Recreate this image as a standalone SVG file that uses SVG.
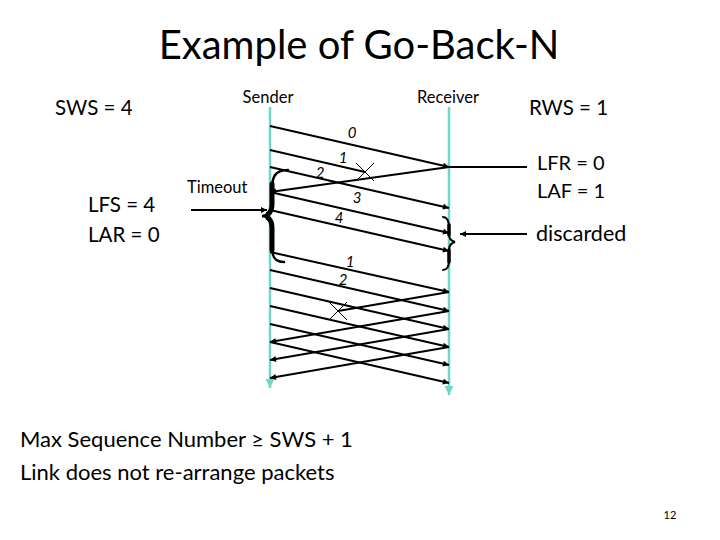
<svg xmlns="http://www.w3.org/2000/svg" width="720" height="540" viewBox="0 0 720 540">
<defs>
<style>
.t{font-family:Lato,"Open Sans","Liberation Sans",sans-serif;fill:#000}
.big{font-size:20.5px}
.sm{font-size:16.5px}
.note{font-size:22px}
.lab{font-family:Lato,"Open Sans","Liberation Sans",sans-serif;font-size:15px;font-style:italic;text-anchor:middle}
.life{stroke:#6ED6CB;stroke-width:2.5;fill:none}
.msg{stroke:#000;stroke-width:2;fill:none}
.msga{stroke:#000;stroke-width:2;fill:none;marker-end:url(#ah)}
.x{stroke:#000;stroke-width:1;fill:none}
.brace{stroke:#000;fill:none;stroke-linecap:round}
</style>
<marker id="ah" viewBox="0 0 10 10" refX="10" refY="5" markerWidth="7" markerHeight="6" markerUnits="userSpaceOnUse" orient="auto"><path d="M0,0 L10,5 L0,10 z" fill="#000"/></marker>
<marker id="th" viewBox="0 0 10 10" refX="10" refY="5" markerWidth="9" markerHeight="9" markerUnits="userSpaceOnUse" orient="auto"><path d="M0,0 L10,5 L0,10 z" fill="#6ED6CB"/></marker>
</defs>
<rect width="720" height="540" fill="#fff"/>

<text class="t" x="359" y="59" font-size="40" text-anchor="middle">Example of Go-Back-N</text>

<g id="sender">
<text class="t sm" x="268" y="103" text-anchor="middle">Sender</text>
<line class="life" x1="270" y1="107" x2="270" y2="388" marker-end="url(#th)"/>
</g>
<g id="receiver">
<text class="t sm" x="448" y="103" text-anchor="middle">Receiver</text>
<line class="life" x1="449" y1="107" x2="449" y2="395" marker-end="url(#th)"/>
</g>

<g id="sender-vars">
<text class="t big" x="55" y="115">SWS = 4</text>
<text class="t big" x="88" y="212">LFS = 4</text>
<text class="t big" x="88" y="242">LAR = 0</text>
</g>
<g id="receiver-vars">
<text class="t big" x="529" y="115">RWS = 1</text>
<text class="t" font-size="20" x="537" y="170">LFR = 0</text>
<text class="t" font-size="20" x="537" y="198">LAF = 1</text>
<text class="t" font-size="21.5" x="536" y="241">discarded</text>
</g>
<g id="timeout">
<text class="t sm" x="187" y="193">Timeout</text>
</g>

<g id="connectors">
<!-- first window -->
<line class="msga" x1="270" y1="126" x2="449" y2="167"/>
<line class="msg" x1="270" y1="150" x2="365" y2="172"/>
<line class="msga" x1="270" y1="167" x2="449" y2="208"/>
<line class="msga" x1="449" y1="167" x2="270" y2="192"/>
<line class="msga" x1="270" y1="192" x2="449" y2="233"/>
<line class="msga" x1="270" y1="210" x2="449" y2="251"/>
<!-- retransmission -->
<line class="msga" x1="270" y1="252" x2="449" y2="292"/>
<line class="msga" x1="270" y1="270" x2="449" y2="311"/>
<line class="msga" x1="270" y1="288" x2="449" y2="329"/>
<line class="msga" x1="270" y1="306" x2="449" y2="347"/>
<line class="msga" x1="270" y1="324" x2="449" y2="365"/>
<line class="msga" x1="270" y1="342" x2="449" y2="383"/>
<!-- acks -->
<line class="msg" x1="449" y1="292" x2="338" y2="311"/>
<line class="msga" x1="449" y1="311" x2="270" y2="342"/>
<line class="msga" x1="449" y1="329" x2="270" y2="360"/>
<line class="msga" x1="449" y1="347" x2="270" y2="378"/>
<!-- losses -->
<path class="x" d="M356,163 L374,181 M356,181 L374,163"/>
<path class="x" d="M329,302 L347,320 M329,320 L347,302"/>
<!-- annotation arrows -->
<line class="msga" x1="191" y1="210" x2="267" y2="210"/>
<line class="msg" x1="527" y1="167" x2="449" y2="167"/>
<line class="msga" x1="527" y1="234" x2="460" y2="234"/>
<!-- braces -->
<path class="brace" stroke-width="2.5" d="M288,170 C274,170 272,178 272,190 L272,204 C272,212 268,216 262,216 C268,216 272,220 272,228 L272,248 C272,257 275,262 284,262"/>
<path class="brace" stroke-width="5" d="M272,184 L272,204 C272,209 271,212 268,214 M268,218 C271,220 272,223 272,228 L272,250"/>
<path class="brace" stroke-width="2" d="M443,217 C448,217 449,222 449,228 L449,234 C449,238 451,241 455,242 C451,243 449,246 449,250 L449,260 C449,266 447,270 443,270"/>
<path class="brace" stroke-width="3.5" d="M449,225 L449,235 M449,250 L449,262"/>
</g>

<g id="frame-labels">
<text class="lab" x="352" y="138">0</text>
<text class="lab" x="343" y="163">1</text>
<text class="lab" x="320" y="178">2</text>
<text class="lab" x="357" y="203">3</text>
<text class="lab" x="339" y="223">4</text>
<text class="lab" x="350" y="267">1</text>
<text class="lab" x="343" y="285">2</text>
</g>

<g id="notes">
<text class="t note" x="20" y="447">Max Sequence Number ≥ SWS + 1</text>
<text class="t note" x="20" y="480">Link does not re-arrange packets</text>
<text class="t" x="670" y="519" font-size="11" fill="#595959" text-anchor="middle">12</text>
</g>
</svg>
